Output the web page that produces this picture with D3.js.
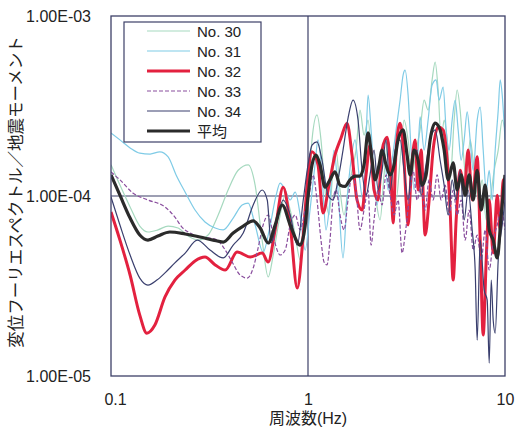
<!DOCTYPE html>
<html><head><meta charset="utf-8">
<script src="https://cdn.jsdelivr.net/npm/d3@7/dist/d3.min.js"></script>
<style>
html,body{margin:0;padding:0;background:#fff;}
svg{display:block;font-family:"Liberation Sans","Noto Sans CJK JP",Arial,sans-serif;}
</style></head>
<body>
<svg id="chart" width="517" height="430"></svg>
<script>
// ---- data (frequency in Hz, amplitude in units of 1e-5) ----
const UNIT = 1e-5;
const xTicks = [0.1, 1, 10];
const xTickLabels = ["0.1", "1", "10"];
const yTicks = [1e-3, 1e-4, 1e-5];
const yTickLabels = ["1.00E-03", "1.00E-04", "1.00E-05"];
const xTitle = "周波数(Hz)";
const yTitle = "変位フーリエスペクトル／地震モーメント";
const seriesNames = ["No. 30", "No. 31", "No. 32", "No. 33", "No. 34", "平均"];

const no30 = [[0.1,14.9],[0.111,11.5],[0.125,8.69],[0.140,6.81],[0.154,6.31],[0.173,6.48],[0.195,6.81],[0.219,6.64],[0.246,5.99],[0.277,5.69],[0.311,6.07],[0.350,7.84],[0.393,10.8],[0.442,13.9],[0.497,14.9],[0.539,11.5],[0.585,5.69],[0.628,3.55],[0.666,4.70],[0.722,7.84],[0.766,10.1],[0.812,8.36],[0.861,6.07],[0.913,4.41],[0.968,6.48],[1.012,10.8],
[1.048,20.5],[1.111,28.2],[1.164,20.5],[1.220,10.8],[1.278,7.84],[1.340,13.9],[1.388,18.0],[1.454,10.8],[1.524,7.84],[1.597,10.8],[1.673,13.9],[1.753,18.0],[1.837,30.0],[1.925,21.8],[2.018,26.4],[2.114,14.9],[2.216,9.50],[2.322,7.36],[2.433,13.1],[2.549,20.5],[2.672,13.9],[2.800,9.50],[2.934,15.8],[3.074,26.4],[3.222,20.5],[3.376,13.1],[3.538,18.0],[3.707,23.3],[3.885,34.1],[4.071,30.0],[4.266,44.2],[4.419,55.5],[4.577,38.8],[4.741,20.5],[4.910,26.4],[5.086,20.5],[5.267,12.3],[5.519,26.4],[5.716,38.8],[5.921,30.0],[6.132,18.0],[6.352,12.3],[6.656,20.5],[6.975,13.9],[7.310,9.50],[7.660,12.3],[8.027,7.36],[8.412,9.50],[8.815,13.9],[9.238,18.0],[9.680,26.4],[10,23.3]];

const no31 = [[0.1,22.4],[0.111,20.5],[0.125,18.5],[0.140,17.3],[0.158,17.1],[0.177,17.6],[0.195,16.5],[0.214,13.1],[0.238,10.5],[0.267,8.36],[0.300,7.17],[0.338,6.64],[0.371,6.48],[0.417,7.54],[0.463,8.91],[0.497,9.14],[0.539,6.90],[0.592,4.88],[0.643,6.90],[0.689,10.1],[0.722,11.8],[0.766,10.8],[0.812,9.50],[0.861,10.5],[0.913,7.84],[0.968,5.01],
[1.024,8.36],[1.085,14.9],[1.124,20.5],[1.178,13.1],[1.234,6.48],[1.293,9.50],[1.355,18.0],[1.420,10.8],[1.506,4.53],[1.578,9.50],[1.654,15.8],[1.733,20.5],[1.816,13.1],[1.903,9.50],[1.971,20.5],[2.018,36.4],[2.090,23.3],[2.164,13.1],[2.242,8.91],[2.322,12.3],[2.433,18.0],[2.549,10.8],[2.672,15.8],[2.800,23.3],[2.934,34.1],[3.039,47.0],[3.110,50.1],[3.222,36.4],[3.337,18.0],[3.456,10.8],[3.622,18.0],[3.707,27.5],[3.885,18.0],[4.071,26.4],[4.266,41.4],[4.471,44.2],[4.631,34.1],[4.853,40.3],[5.026,23.3],[5.206,18.0],[5.392,26.4],[5.584,34.1],[5.784,23.3],[5.990,15.8],[6.205,20.5],[6.427,29.3],[6.656,20.5],[6.894,13.9],[7.224,26.4],[7.483,31.2],[7.750,18.0],[8.027,10.8],[8.315,13.9],[8.611,9.50],[8.918,18.0],[9.238,30.0],[9.456,44.2],[9.680,36.4],[10,20.5]];

const no32 = [[0.1,8.14],[0.111,5.69],[0.125,3.64],[0.140,2.18],[0.152,1.73],[0.167,1.92],[0.188,2.75],[0.211,3.41],[0.238,3.88],[0.267,4.36],[0.300,4.58],[0.338,4.14],[0.380,3.88],[0.437,4.88],[0.509,4.58],[0.585,4.82],[0.628,4.30],[0.681,6.48],[0.748,11.2],[0.812,6.90],[0.882,3.08],[0.946,6.07],[1.0,13.1],
[1.048,17.6],[1.124,14.9],[1.192,8.04],[1.278,11.5],[1.371,16.9],[1.471,21.0],[1.578,25.4],[1.673,16.9],[1.774,9.50],[1.881,8.36],[1.971,13.1],[2.065,19.2],[2.164,10.8],[2.268,9.50],[2.377,18.0],[2.520,21.2],[2.641,12.3],[2.703,7.08],[2.800,18.0],[2.934,25.4],[3.074,15.8],[3.147,9.50],[3.222,6.90],[3.337,13.1],[3.497,20.5],[3.622,10.8],[3.751,18.0],[3.931,6.07],[4.119,9.50],[4.316,18.0],[4.577,24.2],[4.853,23.3],[5.086,15.8],[5.267,8.36],[5.455,3.41],[5.650,7.36],[5.921,13.9],[6.205,10.8],[6.502,18.0],[6.814,9.50],[7.224,16.5],[7.483,5.69],[7.750,1.69],[8.027,4.41],[8.315,9.50],[8.712,4.82],[9.130,10.1],[9.456,6.48],[9.794,12.3],[10,9.50]];

const no33 = [[0.1,13.6],[0.111,12.3],[0.129,10.4],[0.154,9.50],[0.188,8.69],[0.211,7.64],[0.229,6.72],[0.258,6.15],[0.283,5.92],[0.318,5.84],[0.346,5.69],[0.380,5.01],[0.412,4.30],[0.452,3.64],[0.491,3.50],[0.527,3.98],[0.558,5.14],[0.592,6.90],[0.628,7.84],[0.673,5.69],[0.722,4.70],[0.766,5.01],[0.812,6.90],[0.861,7.84],[0.913,6.48],[0.968,8.36],[1.012,10.1],
[1.060,13.1],[1.111,9.50],[1.164,5.69],[1.206,4.30],[1.249,4.14],[1.293,5.69],[1.340,9.50],[1.388,10.8],[1.454,7.84],[1.524,6.48],[1.597,9.50],[1.673,13.1],[1.753,10.8],[1.837,6.48],[1.925,8.36],[2.018,10.8],[2.090,5.34],[2.164,7.36],[2.268,10.8],[2.377,8.91],[2.490,13.1],[2.610,10.1],[2.735,7.84],[2.866,9.50],[3.003,4.82],[3.110,6.07],[3.260,9.50],[3.416,13.9],[3.580,9.50],[3.751,11.5],[3.931,8.36],[4.119,12.3],[4.316,9.50],[4.524,13.1],[4.741,9.50],[4.968,11.5],[5.206,7.84],[5.455,10.8],[5.716,7.84],[5.990,9.50],[6.278,5.69],[6.578,8.36],[6.894,5.01],[7.224,6.07],[7.571,4.41],[7.934,6.48],[8.315,3.88],[8.712,5.69],[9.130,6.90],[9.567,8.36],[10,6.48]];

const no34 = [[0.1,9.87],[0.111,6.90],[0.125,4.70],[0.140,3.50],[0.154,3.20],[0.171,3.41],[0.188,3.74],[0.211,4.25],[0.238,4.82],[0.274,5.69],[0.318,5.01],[0.371,4.53],[0.417,5.34],[0.469,6.23],[0.527,8.91],[0.585,10.8],[0.621,9.50],[0.650,5.48],[0.689,6.90],[0.748,9.50],[0.812,7.84],[0.882,5.34],[0.946,9.50],[1.0,14.9],
[1.048,19.2],[1.111,20.0],[1.178,15.8],[1.263,10.1],[1.340,9.50],[1.420,12.3],[1.506,18.0],[1.597,27.1],[1.693,34.1],[1.795,26.4],[1.881,13.9],[1.971,10.1],[2.065,13.1],[2.164,18.0],[2.268,10.8],[2.377,13.9],[2.490,20.5],[2.610,10.8],[2.767,18.0],[2.934,20.5],[3.074,13.9],[3.222,9.50],[3.376,15.8],[3.580,18.0],[3.751,10.1],[3.931,13.9],[4.168,20.5],[4.419,23.3],[4.685,15.8],[4.910,11.5],[5.145,7.84],[5.392,12.3],[5.650,9.50],[5.921,13.9],[6.205,7.36],[6.502,10.8],[6.814,6.48],[7.057,3.88],[7.224,1.58],[7.483,5.69],[7.842,3.00],[8.122,2.64],[8.315,1.18],[8.511,3.41],[8.712,2.04],[8.918,1.73],[9.238,4.41],[9.680,6.90],[10,9.50]];

const avg = [[0.1,13.1],[0.111,10.1],[0.125,7.54],[0.140,6.07],[0.154,5.69],[0.173,5.99],[0.199,6.31],[0.238,6.15],[0.283,5.92],[0.330,5.69],[0.371,5.55],[0.417,6.23],[0.469,6.81],[0.527,7.27],[0.572,6.64],[0.628,5.48],[0.681,6.90],[0.740,8.91],[0.812,6.90],[0.913,5.34],[0.968,6.90],[1.0,9.87],
[1.048,14.9],[1.098,16.9],[1.151,14.9],[1.220,11.2],[1.293,12.3],[1.371,13.6],[1.454,11.5],[1.542,11.3],[1.634,12.3],[1.733,12.9],[1.837,12.9],[1.925,14.9],[2.018,22.4],[2.114,15.8],[2.190,12.3],[2.295,14.9],[2.377,18.0],[2.490,14.9],[2.610,13.1],[2.735,14.9],[2.866,20.5],[3.039,23.3],[3.184,16.9],[3.298,13.1],[3.456,18.0],[3.622,15.8],[3.795,11.5],[3.977,13.1],[4.168,20.5],[4.419,25.4],[4.685,23.3],[4.910,18.0],[5.145,12.3],[5.455,15.3],[5.716,10.8],[5.990,13.1],[6.278,10.1],[6.578,13.1],[6.894,9.50],[7.224,13.9],[7.571,8.36],[7.934,11.5],[8.315,6.48],[8.712,5.69],[9.130,4.53],[9.567,7.84],[10,13.1]];

// ---- styles ----
const seriesData = [no30, no31, no32, no33, no34, avg];
const seriesColors = ["#a6d9bf", "#7fcbe6", "#e3213f", "#8a4e9e", "#3a3f6e", "#2b2b2b"];
const seriesWidths = [1.2, 1.2, 3, 1.2, 1.2, 3.2];
const seriesDash = [null, null, null, "4,2", null, null];

const svg = d3.select("#chart");
const L = 111, R = 505, T = 16, B = 376;
const x = d3.scaleLog().domain([0.1, 10]).range([L, R]);
const y = d3.scaleLog().domain([1e-5, 1e-3]).range([B, T]);
const frameColor = "#3d4068";

svg.append("clipPath").attr("id", "clip").append("rect")
  .attr("x", L).attr("y", T).attr("width", R - L).attr("height", B - T);

// grid lines
svg.append("line").attr("x1", x(1)).attr("x2", x(1)).attr("y1", T).attr("y2", B)
  .attr("stroke", frameColor).attr("stroke-width", 1.2);
svg.append("line").attr("x1", L).attr("x2", R).attr("y1", y(1e-4)).attr("y2", y(1e-4))
  .attr("stroke", frameColor).attr("stroke-width", 1.2);

// series
const line = d3.line()
  .x(d => x(d[0])).y(d => y(d[1] * UNIT))
  .curve(d3.curveMonotoneX);
const gLines = svg.append("g").attr("clip-path", "url(#clip)");
seriesData.forEach((s, i) => {
  gLines.append("path").datum(s)
    .attr("d", line)
    .attr("fill", "none")
    .attr("stroke", seriesColors[i])
    .attr("stroke-width", seriesWidths[i])
    .attr("stroke-linejoin", "round")
    .attr("stroke-dasharray", seriesDash[i]);
});

// frame
svg.append("rect").attr("x", L).attr("y", T).attr("width", R - L).attr("height", B - T)
  .attr("fill", "none").attr("stroke", frameColor).attr("stroke-width", 1.3);

// axes
const yAxis = d3.axisLeft(y).tickValues(yTicks)
  .tickFormat((d, i) => yTickLabels[i]).tickSize(0).tickPadding(20);
const gy = svg.append("g").attr("transform", `translate(${L},0)`).call(yAxis);
gy.select(".domain").remove();
gy.selectAll("text").attr("font-size", 16).attr("fill", "#222")
  .attr("font-family", "'Liberation Sans', Arial, sans-serif");

const xAxis = d3.axisBottom(x).tickValues(xTicks)
  .tickFormat((d, i) => xTickLabels[i]).tickSize(0).tickPadding(18);
const gx = svg.append("g").attr("transform", `translate(0,${B})`).call(xAxis);
gx.select(".domain").remove();
gx.selectAll("text").attr("font-size", 16).attr("fill", "#222")
  .attr("font-family", "'Liberation Sans', Arial, sans-serif");
gx.selectAll(".tick").filter((d, i) => i === 0).select("text").attr("dx", 4);

// titles
svg.append("text").attr("x", x(1)).attr("y", 424).attr("text-anchor", "middle")
  .attr("font-size", 16).attr("fill", "#222").text(xTitle);
svg.append("text").attr("transform", `translate(22,${(T + B) / 2 - 4}) rotate(-90)`)
  .attr("text-anchor", "middle").attr("font-size", 16.5).attr("fill", "#222").text(yTitle);

// legend
const lg = svg.append("g");
lg.append("rect").attr("x", 124).attr("y", 22).attr("width", 137).attr("height", 120)
  .attr("fill", "#fff").attr("stroke", frameColor).attr("stroke-width", 1.2);
seriesNames.forEach((name, i) => {
  const yy = 31 + i * 20;
  lg.append("line").attr("x1", 147).attr("x2", 190).attr("y1", yy).attr("y2", yy)
    .attr("stroke", seriesColors[i]).attr("stroke-width", seriesWidths[i])
    .attr("stroke-dasharray", seriesDash[i]);
  lg.append("text").attr("x", 197).attr("y", yy + 5.5).attr("font-size", 15)
    .attr("fill", "#222").text(name);
});
</script>
</body></html>
